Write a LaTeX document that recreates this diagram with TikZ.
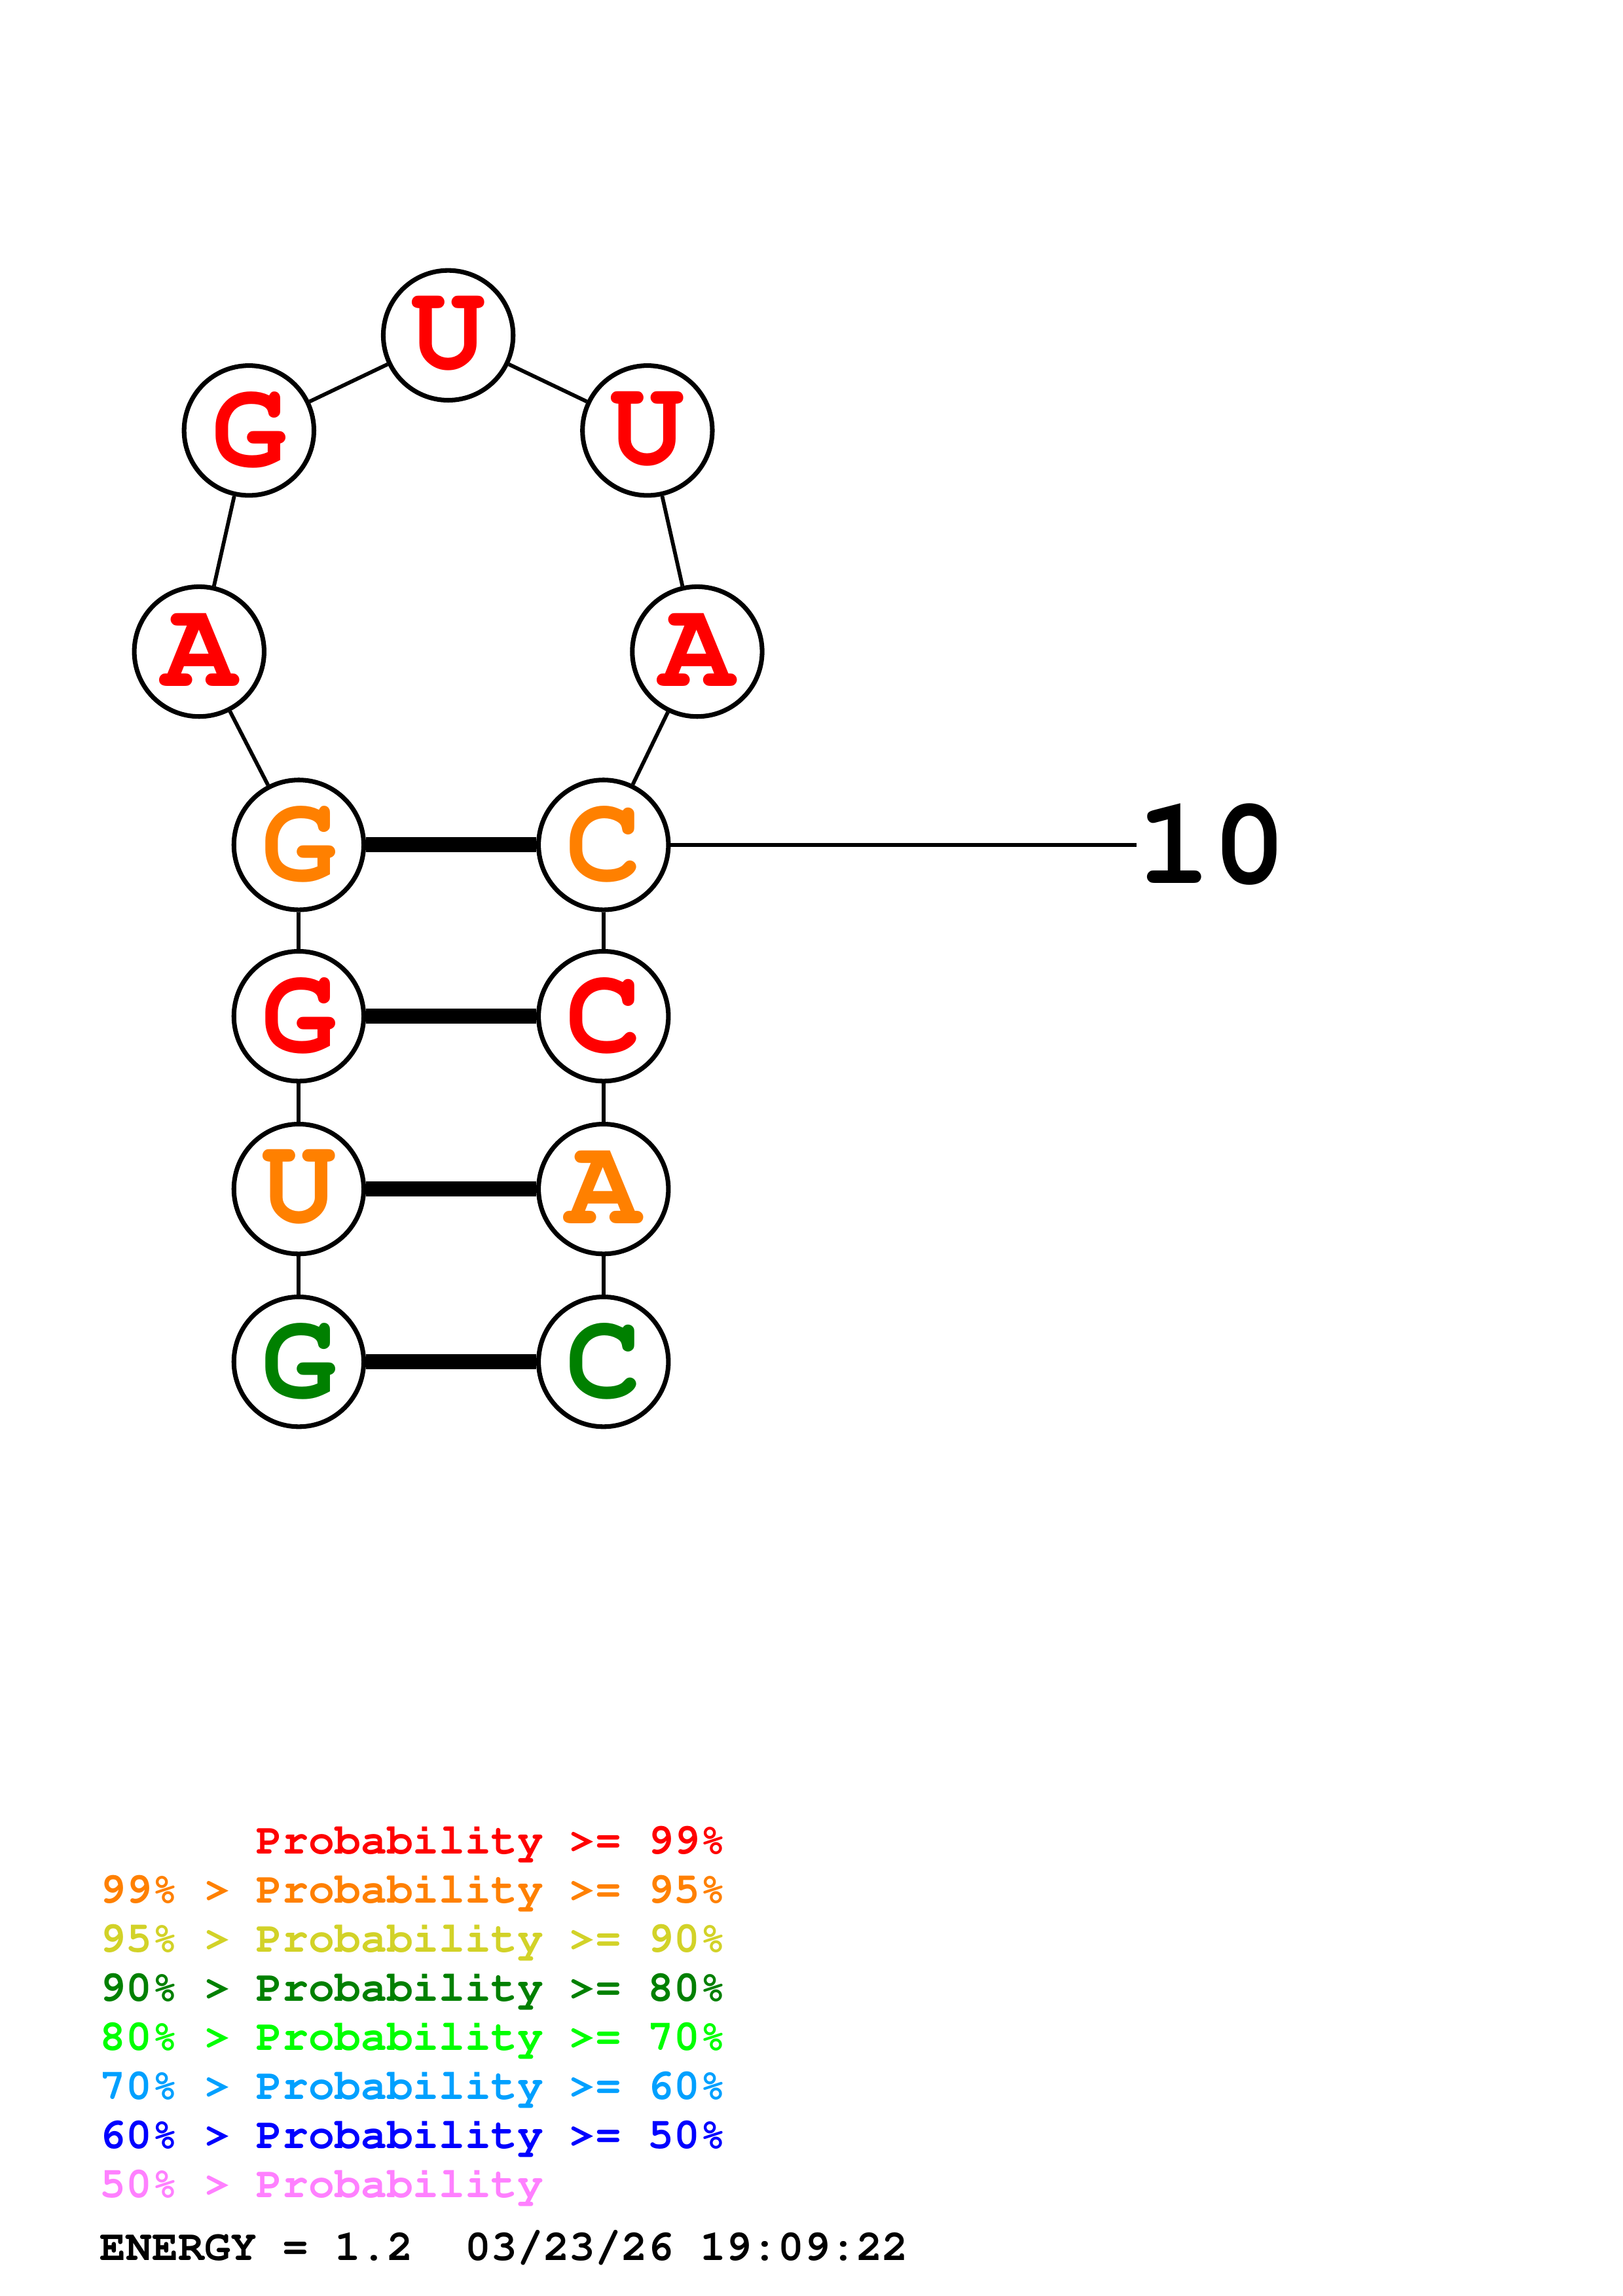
\documentclass[tikz,border=0pt]{standalone}
\usepackage[T1]{fontenc}
\usepackage{xcolor}
\usetikzlibrary{positioning}

\definecolor{prob99}{RGB}{255,0,0}
\definecolor{prob95}{RGB}{255,128,0}
\definecolor{prob90}{RGB}{210,210,40}
\definecolor{prob80}{RGB}{0,128,0}
\definecolor{prob70}{RGB}{0,255,0}
\definecolor{prob60}{RGB}{0,160,255}
\definecolor{prob50}{RGB}{0,0,255}
\definecolor{probLow}{RGB}{255,128,255}

\begin{document}
\begin{tikzpicture}[x=0.018953cm, y=-0.018953cm,
    every node/.style={font=\fontfamily{pcr}\bfseries\fontsize{46}{46}\selectfont},
    base/.style={circle, draw, line width=1.7pt, fill=white, minimum size=1.68cm, inner sep=0pt},
    bond/.style={line width=1.4pt},
    pair/.style={line width=5.5pt},
    legend/.style={anchor=base west, inner sep=0pt, font=\fontfamily{pcr}\bfseries\fontsize{16}{16}\selectfont}]
        \useasboundingbox (0,0) rectangle (1108,1568);

        % Stelo
        \node (n1) at (204,930) [base, text=prob80] {G};
        \node (n2) at (204,812) [base, text=prob95] {U};
        \node (n3) at (204,694) [base, text=prob99] {G};
        \node (n4) at (204,577) [base, text=prob95] {G};
        \node (n10) at (412,577) [base, text=prob95] {C};
        \node (n11) at (412,694) [base, text=prob99] {C};
        \node (n12) at (412,812) [base, text=prob95] {A};
        \node (n13) at (412,930) [base, text=prob80] {C};

        % Anello
        \node (n5) at (136,445) [base, text=prob99] {A};
        \node (n6) at (170,294) [base, text=prob99] {G};
        \node (n7) at (306,229) [base, text=prob99] {U};
        \node (n8) at (442,294) [base, text=prob99] {U};
        \node (n9) at (476,445) [base, text=prob99] {A};

        % Collegamenti
        \draw[bond] (n1) -- (n2);
        \draw[bond] (n2) -- (n3);
        \draw[bond] (n3) -- (n4);
        \draw[bond] (n4) -- (n5);
        \draw[bond] (n5) -- (n6);
        \draw[bond] (n6) -- (n7);
        \draw[bond] (n7) -- (n8);
        \draw[bond] (n8) -- (n9);
        \draw[bond] (n9) -- (n10);
        \draw[bond] (n10) -- (n11);
        \draw[bond] (n11) -- (n12);
        \draw[bond] (n12) -- (n13);

        % Coppie
        \draw[pair] (n1) -- (n13);
        \draw[pair] (n2) -- (n12);
        \draw[pair] (n3) -- (n11);
        \draw[pair] (n4) -- (n10);

        % Numerazione
        \coordinate (tick10) at (776,577);
        \node (lab10) [right=0pt of tick10, inner sep=0pt] {10};
        \draw[bond] (n10) -- (tick10);

        % Legenda
        \node (leg1) at (68,1266) [legend, text=prob99] {\phantom{99\% > }Probability >= 99\%};
        \node (leg2) at (68,1299.5) [legend, text=prob95] {99\% > Probability >= 95\%};
        \node (leg3) at (68,1333) [legend, text=prob90] {95\% > Probability >= 90\%};
        \node (leg4) at (68,1366.5) [legend, text=prob80] {90\% > Probability >= 80\%};
        \node (leg5) at (68,1400) [legend, text=prob70] {80\% > Probability >= 70\%};
        \node (leg6) at (68,1433.5) [legend, text=prob60] {70\% > Probability >= 60\%};
        \node (leg7) at (68,1467) [legend, text=prob50] {60\% > Probability >= 50\%};
        \node (leg8) at (68,1500.5) [legend, text=probLow] {50\% > Probability};
        \node (energy) at (68,1543.5) [legend] {ENERGY = 1.2\ \ 03/23/26 19:09:22};
    \end{tikzpicture}
\end{document}
